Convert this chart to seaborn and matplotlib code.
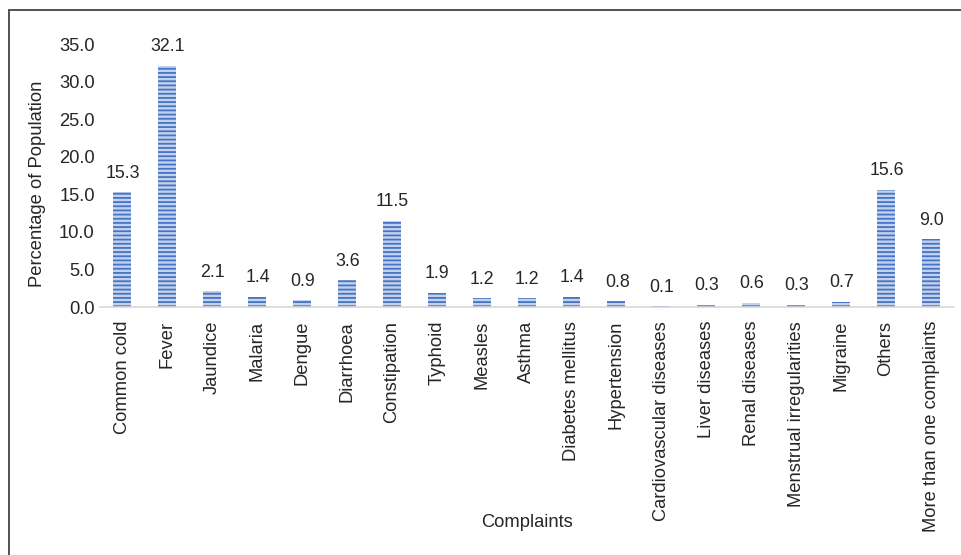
import matplotlib
matplotlib.use("Agg")
import matplotlib.pyplot as plt
import seaborn as sns
import pandas as pd
from matplotlib.lines import Line2D

complaints = ["Common cold", "Fever", "Jaundice", "Malaria", "Dengue", "Diarrhoea",
              "Constipation", "Typhoid", "Measles", "Asthma", "Diabetes mellitus",
              "Hypertension", "Cardiovascular diseases", "Liver diseases",
              "Renal diseases", "Menstrual irregularities", "Migraine", "Others",
              "More than one complaints"]
percentages = [15.3, 32.1, 2.1, 1.4, 0.9, 3.6, 11.5, 1.9, 1.2, 1.2, 1.4, 0.8,
               0.1, 0.3, 0.6, 0.3, 0.7, 15.6, 9.0]
yticks = [0, 5, 10, 15, 20, 25, 30, 35]

df = pd.DataFrame({"Complaint": complaints, "Percent": percentages})

sns.set_style("white")
plt.rcParams['font.family'] = ['Liberation Sans', 'DejaVu Sans']
plt.rcParams['hatch.linewidth'] = 1.3

txt = "#262626"
fs = 13.2

fig = plt.figure(figsize=(9.62, 5.55), dpi=100)
ax = fig.add_axes([0.1035, 0.4468, 0.8877, 0.4739])

sns.barplot(data=df, x="Complaint", y="Percent", color="#c2d2ee", width=0.4,
            ax=ax, saturation=1)
for bar in ax.patches:
    bar.set_hatch("----")
    bar.set_edgecolor("#4674c4")
    bar.set_linewidth(0)

for i, v in enumerate(percentages):
    ax.annotate(f"{v:.1f}", (i, v), xytext=(0.5, 7.5), textcoords="offset points",
                ha="center", va="bottom", fontsize=12.8, color=txt,
                annotation_clip=False)

ax.set_ylim(0, 35)
ax.set_yticks(yticks)
ax.set_yticklabels([f"{t:.1f}" for t in yticks])
ax.set_xlim(-0.5, len(complaints) - 0.5)
ax.tick_params(axis="x", rotation=90, labelsize=fs, colors=txt, length=0, pad=10)
ax.tick_params(axis="y", labelsize=fs, colors=txt, length=0, pad=3.5)
ax.set_xlabel("Complaints", fontsize=fs, color=txt, va="center")
ax.set_ylabel("Percentage of Population", fontsize=fs, color=txt, va="center")
ax.xaxis.set_label_coords(0.5, -0.821)
ax.yaxis.set_label_coords(-0.0732, 0.47)

for side in ["top", "right", "left"]:
    ax.spines[side].set_visible(False)
ax.spines["bottom"].set_color("#d9d9d9")
ax.spines["bottom"].set_linewidth(1.2)

# outer frame (cropped at right and bottom)
fig.add_artist(Line2D([8.5 / 962, 8.5 / 962], [0, 1 - 10 / 555], color="#444444", lw=1.3,
                      transform=fig.transFigure))
fig.add_artist(Line2D([8.5 / 962, 1], [1 - 10 / 555, 1 - 10 / 555], color="#444444", lw=1.3,
                      transform=fig.transFigure))

fig.savefig("out.png", dpi=100)
